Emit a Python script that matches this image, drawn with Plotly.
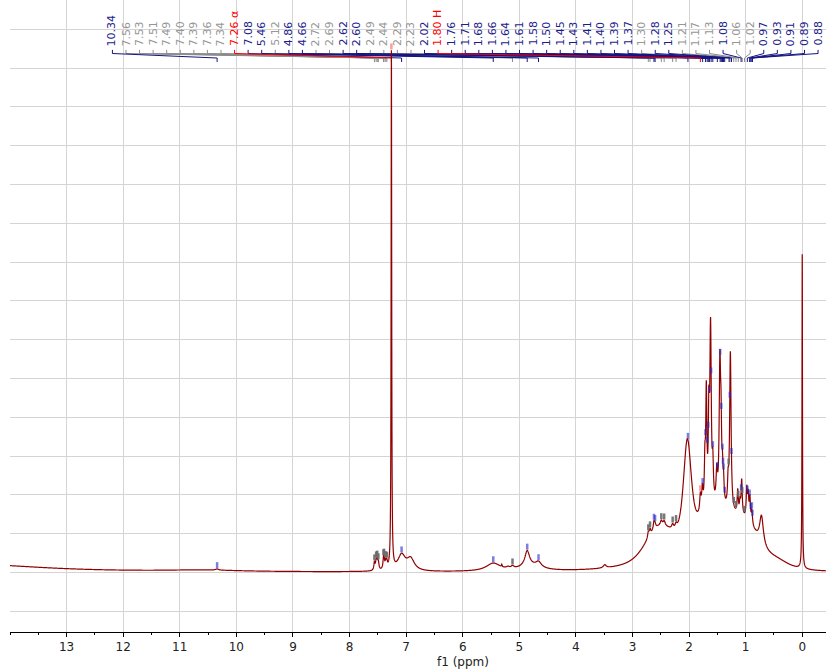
import numpy as np
import plotly.graph_objects as go

# ---------------------------------------------------------------------------
# 1H NMR line list: centre (ppm), height, half-width (ppm), Lorentzian fraction
# (remaining fraction of each line is Gaussian)
# ---------------------------------------------------------------------------
line_ppm = [14.60, 10.60, 10.34,
            7.56, 7.53, 7.51, 7.49, 7.40, 7.39, 7.36, 7.34, 7.26,
            7.08, 6.92, 5.46, 5.31, 5.20, 5.12, 4.86, 4.80, 4.66, 3.49,
            2.50, 2.55, 1.45, 0.95, 0.45,
            2.72, 2.69, 2.62, 2.60, 2.49, 2.44, 2.29, 2.23, 2.03,
            1.80, 1.765, 1.72, 1.695, 1.65, 1.62, 1.58, 1.51,
            1.455, 1.435, 1.41, 1.39, 1.31, 1.27,
            1.14, 1.10, 1.07, 0.98, 0.955, 0.925, 0.89, 0.72, 0.00]
line_height = [0.20, 0.04, 0.03,
               0.20, 0.22, 0.22, 0.18, 0.20, 0.20, 0.18, 0.15, 13.35,
               0.40, 0.30, 0.20, 0.06, 0.04, 0.06, 0.40, 0.12, 0.14, 0.08,
               0.60, 0.45, 1.40, 0.35, 0.20,
               0.15, 0.15, 0.20, 0.10, 0.12, 0.12, 0.12, 0.12, 2.45,
               0.45, 0.55, 1.10, 2.90, 2.10, 4.55, 0.90, 0.80,
               3.55, 1.60, 0.70, 0.50, 0.60, 4.10,
               0.60, 0.30, 0.90, 0.75, 0.60, 0.60, 0.35, 0.75, 8.10]
line_hwhm = [1.50, 0.80, 0.03,
             0.012, 0.012, 0.012, 0.012, 0.012, 0.012, 0.012, 0.012, 0.006,
             0.08, 0.08, 0.15, 0.005, 0.03, 0.03, 0.05, 0.25, 0.06, 0.03,
             0.45, 0.25, 0.55, 0.20, 0.30,
             0.015, 0.015, 0.015, 0.015, 0.02, 0.02, 0.02, 0.02, 0.08,
             0.015, 0.015, 0.012, 0.012, 0.012, 0.015, 0.012, 0.015,
             0.015, 0.012, 0.012, 0.012, 0.012, 0.015,
             0.012, 0.012, 0.012, 0.012, 0.012, 0.012, 0.012, 0.04, 0.005]
line_lorentz = [1, 1, 1,
                1, 1, 1, 1, 1, 1, 1, 1, 1,
                1, 1, 1, 1, 1, 1, 1, 1, 1, 1,
                1, 0, 0, 0, 1,
                1, 1, 1, 1, 1, 1, 1, 1, 0.6,
                1, 1, 1, 1, 1, 1, 1, 1,
                1, 1, 1, 1, 1, 1,
                1, 1, 1, 1, 1, 1, 1, 1, 1]

# Peak-picking labels and their class (b = compound, g = minor, r = solvent)
peak_labels = ["10.34", "7.56", "7.53", "7.51", "7.49", "7.40", "7.39", "7.36",
               "7.34", "7.26 α", "7.08", "5.46", "5.12", "4.86", "4.66", "2.72",
               "2.69", "2.62", "2.60", "2.49", "2.44", "2.29", "2.23", "2.02",
               "1.80 H", "1.76", "1.71", "1.68", "1.66", "1.64", "1.61", "1.58",
               "1.50", "1.45", "1.43", "1.41", "1.40", "1.39", "1.37", "1.30",
               "1.28", "1.25", "1.21", "1.17", "1.13", "1.08", "1.06", "1.02",
               "0.97", "0.93", "0.91", "0.89", "0.88"]
peak_kind = ["b", "g", "g", "g", "g", "g", "g", "g",
             "g", "r", "b", "b", "g", "b", "b", "g",
             "g", "b", "b", "g", "g", "g", "g", "b",
             "r", "b", "b", "b", "b", "b", "b", "b",
             "b", "b", "b", "b", "b", "b", "b", "g",
             "b", "b", "g", "g", "g", "b", "g", "g",
             "b", "b", "b", "b", "b"]

x_ticks = list(range(0, 14))

# ---------------------------------------------------------------------------
# layout constants
# ---------------------------------------------------------------------------
X_LEFT, X_RIGHT = 14.0, -0.42
Y_BOTTOM, Y_TOP = -1.534, 14.755
LABEL_X0, LABEL_STEP = 12.19, 0.2398      # label slots, ppm
Y_LABEL = 13.544
Y_TICK_TOP, Y_TICK_BOT = 13.469, 13.376
Y_HOOK_TOP, Y_HOOK_BOT = 13.260, 13.157
MARK_LEN = 0.155

text_col = {"b": "rgb(28,28,140)", "g": "rgb(150,150,150)", "r": "rgb(255,0,0)"}
link_col = {"b": "rgb(20,20,130)", "g": "rgb(140,140,140)", "r": "rgb(255,0,0)"}
mark_col = {"b": "rgba(40,40,200,0.6)", "g": "rgba(105,105,105,0.9)",
            "r": "rgba(255,90,90,0.6)"}

c = np.array(line_ppm)
h = np.array(line_height)
w = np.array(line_hwhm)
eta = np.array(line_lorentz, dtype=float)


def spectrum(x):
    x = np.atleast_1d(np.asarray(x, dtype=float))[:, None]
    d2 = ((x - c) / w) ** 2
    shape = eta / (1.0 + d2) + (1.0 - eta) * np.exp(-np.log(2.0) * d2)
    return (h * shape).sum(axis=1)


ppm = np.arange(X_LEFT, X_RIGHT, -0.001)
intensity = spectrum(ppm)

fig = go.Figure()

# connectors from label slots down to the picked peaks
for kind in ["g", "b", "r"]:
    xs, ys = [], []
    for i, (lab, k) in enumerate(zip(peak_labels, peak_kind)):
        if k != kind:
            continue
        slot = LABEL_X0 - i * LABEL_STEP
        pk = float(lab.split()[0])
        xs += [slot, slot, pk, pk, None]
        ys += [Y_TICK_TOP, Y_TICK_BOT, Y_HOOK_TOP, Y_HOOK_BOT, None]
    fig.add_trace(go.Scatter(x=xs, y=ys, mode="lines",
                             line=dict(color=link_col[kind], width=1),
                             hoverinfo="skip", showlegend=False))

# spectrum
fig.add_trace(go.Scatter(x=ppm, y=intensity, mode="lines",
                         line=dict(color="rgb(145,0,0)", width=1.2,
                                   simplify=False),
                         hoverinfo="skip", showlegend=False))

# peak markers above the curve
for kind in ["g", "b", "r"]:
    xs, ys = [], []
    for lab, k in zip(peak_labels, peak_kind):
        if k != kind:
            continue
        pk = float(lab.split()[0])
        top = float(spectrum(pk)[0])
        xs += [pk, pk, None]
        ys += [top + 0.02, top + 0.02 + MARK_LEN, None]
    fig.add_trace(go.Scatter(x=xs, y=ys, mode="lines",
                             line=dict(color=mark_col[kind], width=2.5),
                             hoverinfo="skip", showlegend=False))

annotations = []
for i, (lab, k) in enumerate(zip(peak_labels, peak_kind)):
    annotations.append(dict(
        x=LABEL_X0 - i * LABEL_STEP, y=Y_LABEL, xref="x", yref="y",
        text=lab, showarrow=False, textangle=-90,
        xanchor="center", yanchor="bottom", borderpad=0,
        font=dict(family="DejaVu Sans", size=11, color=text_col[k])))

annotations.append(dict(
    x=(463 - 10) / 816, y=0, xref="paper", yref="paper", yshift=-30,
    text="f1 (ppm)", showarrow=False, xanchor="center", yanchor="middle",
    font=dict(family="DejaVu Sans", size=12, color="#222222")))

fig.update_layout(
    width=826, height=669,
    margin=dict(l=10, r=0, t=0, b=37),
    paper_bgcolor="white", plot_bgcolor="white",
    annotations=annotations,
    xaxis=dict(range=[X_LEFT, X_RIGHT], tickvals=x_ticks,
               ticktext=[str(t) for t in x_ticks],
               showgrid=True, gridcolor="rgb(212,212,212)", gridwidth=1,
               zeroline=False, showline=True, linecolor="black", linewidth=1,
               ticks="outside", ticklen=4, tickcolor="black",
               minor=dict(dtick=0.5, tick0=0, ticks="outside", ticklen=2,
                          tickcolor="black", showgrid=False),
               tickfont=dict(family="DejaVu Sans", size=12, color="#222222")),
    yaxis=dict(range=[Y_BOTTOM, Y_TOP], dtick=1, tick0=0,
               showgrid=True, gridcolor="rgb(212,212,212)", gridwidth=1,
               zeroline=False, showline=False, showticklabels=False,
               ticks=""),
)

fig.write_html("out.html")
